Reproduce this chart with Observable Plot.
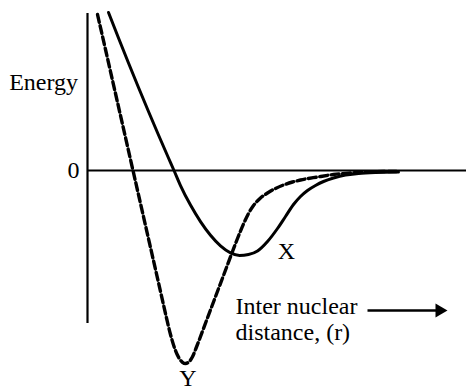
<!DOCTYPE html>
<html>
<head>
<meta charset="utf-8">
<script src="https://cdn.jsdelivr.net/npm/d3@7"></script>
<script src="https://cdn.jsdelivr.net/npm/@observablehq/plot@0.6"></script>
<style>
  html, body { margin: 0; padding: 0; background: #fff; }
  #chart svg { display: block; overflow: visible; }
</style>
</head>
<body>
<div id="chart"></div>
<script>
// Curve X (solid): inter nuclear distance r and energy E (arbitrary units)
const xR = [2.1, 3.1, 4.1, 5.1, 6.1, 7.1, 8.1, 8.65, 9.3, 10.3, 11.3, 12.3, 13.3, 14.3, 15.2, 16.1, 17.0, 18.0, 19.0, 19.8, 20.6, 21.3, 22.0, 22.8, 23.6, 24.6, 25.8, 27.1, 28.8, 31.1];
const xE = [15.8, 13.25, 10.75, 8.3, 5.9, 3.55, 1.25, 0, -1.51, -3.46, -5.11, -6.48, -7.54, -8.24, -8.5, -8.4, -8.05, -7.1, -5.8, -4.6, -3.4, -2.6, -2.0, -1.5, -1.1, -0.75, -0.45, -0.3, -0.2, -0.15];

// Curve Y (dashed)
const yR = [1.0, 1.8, 2.8, 3.8, 4.55, 5.3, 6.3, 7.3, 7.9, 8.3, 8.7, 9.1, 9.5, 9.8, 10.1, 10.5, 10.9, 11.9, 12.9, 13.9, 14.5, 15.0, 15.6, 16.1, 16.6, 17.3, 18.0, 18.8, 19.6, 20.5, 21.3, 23.0, 24.6, 26.3, 28.0, 29.6, 31.1];
const yE = [15.6, 12.1, 7.7, 3.3, 0, -3.3, -7.7, -12.1, -14.75, -16.4, -17.74, -18.67, -19.18, -19.3, -19.18, -18.63, -17.65, -15.0, -12.35, -9.7, -8.1, -6.8, -5.35, -4.3, -3.5, -2.75, -2.25, -1.8, -1.45, -1.15, -0.95, -0.65, -0.4, -0.25, -0.15, -0.1, -0.1];

// Axis / labels
const yTicks = [0];
const axisTitle = "Energy";
const curveNames = ["X", "Y"];
const distanceLabel = ["Inter nuclear", "distance, (r)"];

const curveX = xR.map((r, i) => ({r, E: xE[i]}));
const curveY = yR.map((r, i) => ({r, E: yE[i]}));

const ink = "#000";
const fs = 24;

const chart = Plot.plot({
  width: 466,
  height: 387,
  marginLeft: 87,
  marginRight: 0,
  marginTop: 0,
  marginBottom: 0,
  x: {domain: [0, 37.9], axis: null},
  y: {domain: [-21.7, 17.0], axis: null},
  style: {fontFamily: "'Liberation Serif', 'Times New Roman', serif", fontSize: fs + "px", color: ink, background: "#fff"},
  marks: [
    // axes
    Plot.ruleY(yTicks, {stroke: ink, strokeWidth: 2}),
    Plot.ruleX([0], {y1: 15.7, y2: -15.3, stroke: ink, strokeWidth: 2.2}),
    Plot.axisY(yTicks, {tickSize: 0, tickPadding: 8, label: null, fontSize: fs, fill: ink}),
    Plot.text([axisTitle], {x: -0.95, y: 8.1, text: d => d, textAnchor: "end", lineAnchor: "bottom", fontSize: fs, fill: ink}),
    // curves
    Plot.line(curveY, {x: "r", y: "E", curve: "monotone-x", stroke: ink, strokeWidth: 3.4, strokeDasharray: "8,3.5"}),
    Plot.line(curveX, {x: "r", y: "E", curve: "monotone-x", stroke: ink, strokeWidth: 3}),
    // curve labels
    Plot.text([curveNames[0]], {x: 19.9, y: -8.8, text: d => d, textAnchor: "middle", lineAnchor: "bottom", fontSize: fs, fill: ink}),
    Plot.text([curveNames[1]], {x: 10.05, y: -21.55, text: d => d, textAnchor: "middle", lineAnchor: "bottom", fontSize: fs, fill: ink}),
    // distance label + arrow
    Plot.text([distanceLabel[0]], {x: 14.8, y: -14.3, text: d => d, textAnchor: "start", lineAnchor: "bottom", fontSize: fs, fill: ink}),
    Plot.text([distanceLabel[1]], {x: 14.8, y: -16.9, text: d => d, textAnchor: "start", lineAnchor: "bottom", fontSize: fs, fill: ink}),
    Plot.link([0], {x1: 28.0, x2: 35.4, y1: -14.0, y2: -14.0, stroke: ink, strokeWidth: 2.5}),
    Plot.dot([0], {x: 35.2, y: -14.0, symbol: "triangle", r: 5.14, rotate: 90, fill: ink, stroke: "none"})
  ]
});
document.getElementById("chart").appendChild(chart);
</script>
</body>
</html>
